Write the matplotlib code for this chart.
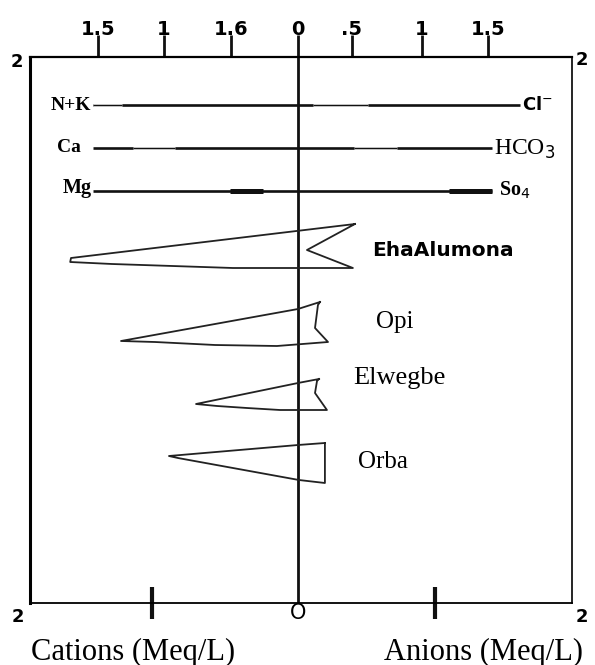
import numpy as np
import matplotlib
matplotlib.use("Agg")
import matplotlib.pyplot as plt

# Stiff diagram: x in meq/L (cations to the left, negative), y = row position (diagram units, top = small)
top_tick_pos = [-1.49, -1.0, -0.5, 0.0, 0.40, 0.925, 1.42]
top_tick_lab = ["1.5", "1", "1.6", "0", ".5", "1", "1.5"]
bottom_tick_pos = [-1.09, 1.02]

ion_rows = [105, 148, 191]
cation_labels = ["N+K", "Ca", "Mg"]
anion_labels = ["Cl$^{-}$", "HCO$_3$", "So$_4$"]
ion_left = [-1.53, -1.53, -1.53]
ion_right = [1.657, 1.448, 1.448]
# thin stretches of each row line (start, end in meq/L)
ion_thin = [[(-1.53, -1.31), (0.11, 0.52)],
            [(-1.23, -0.92), (0.42, 0.74)],
            []]
# extra-heavy stretches
ion_heavy = [[], [], [(-0.51, -0.26), (1.13, 1.448)]]

stations = ["EhaAlumona", "Opi", "Elwegbe", "Orba"]
eha_x = [0.425, -1.694, -1.70, -1.388, -0.485, 0.41, 0.067, 0.425]
eha_y = [224, 258, 262, 264, 268, 268, 250, 224]
opi_x = [0.164, 0.0, -1.321, -1.067, -0.619, -0.157, 0.224, 0.127, 0.149, 0.164]
opi_y = [302, 309, 341, 342, 345, 346, 342, 328, 305, 302]
elw_x = [0.157, 0.0, -0.761, -0.604, -0.381, -0.134, 0.216, 0.127, 0.142, 0.157]
elw_y = [379, 383, 404, 406, 408, 410, 410, 393, 381, 379]
orba_x = [0.201, 0.0, -0.963, -0.896, 0.007, 0.201, 0.201]
orba_y = [443, 445, 456, 458, 480, 483, 443]
station_label_pos = [(0.55, 250), (0.58, 322), (0.41, 378), (0.45, 462)]

W, H = 595, 665
fig = plt.figure(figsize=(W / 100, H / 100), dpi=100)
ax = fig.add_axes([30 / W, 1 - 603 / H, 542 / W, 546 / H])
ax.set_xlim(-2.0, 2.045)
ax.set_ylim(603, 57)

ax.spines["left"].set_linewidth(2.2)
ax.spines["top"].set_linewidth(1.6)
ax.spines["bottom"].set_linewidth(1.3)
ax.spines["right"].set_linewidth(1.2)
ax.set_yticks([])

# bottom ticks
ax.set_xticks(bottom_tick_pos)
ax.set_xticklabels([])
ax.tick_params(axis="x", direction="inout", length=23, width=3, color="#111")

# top ticks
sec = ax.secondary_xaxis("top")
sec.set_xticks(top_tick_pos)
sec.set_xticklabels(top_tick_lab, fontsize=14, fontweight="heavy")
sec.tick_params(direction="out", length=16, width=2, pad=-3, color="#111")
sec.spines["top"].set_visible(False)

# central axis
ax.plot([0, 0], [57, 603], color="#111", lw=2.0, solid_capstyle="butt")

# ion rows
for i, (y, lo, hi) in enumerate(zip(ion_rows, ion_left, ion_right)):
    ax.plot([lo, hi], [y, y], color="#111", lw=1.9, solid_capstyle="butt")
    for a, b in ion_thin[i]:
        ax.plot([a, b], [y, y], color="white", lw=1.9, solid_capstyle="butt")
        ax.plot([a, b], [y, y], color="#111", lw=0.9, solid_capstyle="butt")
    for a, b in ion_heavy[i]:
        ax.plot([a, b], [y, y], color="#111", lw=3.6, solid_capstyle="butt")

serif = "Liberation Serif"
ax.text(-1.54, ion_rows[0], cation_labels[0], ha="right", va="center",
        family=serif, fontweight="bold", fontsize=14)
ax.text(-1.62, ion_rows[1], cation_labels[1], ha="right", va="center",
        family=serif, fontweight="bold", fontsize=14)
ax.text(-1.54, ion_rows[2] - 3, cation_labels[2], ha="right", va="center",
        family=serif, fontweight="bold", fontsize=14.5)
ax.text(1.67, ion_rows[0], anion_labels[0], ha="left", va="center",
        fontweight="bold", fontsize=13)
ax.text(1.46, ion_rows[1] + 1, anion_labels[1], ha="left", va="center",
        family=serif, fontsize=17)
ax.text(1.50, ion_rows[2] - 1, anion_labels[2], ha="left", va="center",
        family=serif, fontweight="bold", fontsize=14.5)

# station polygons
for xs, ys in [(eha_x, eha_y), (opi_x, opi_y), (elw_x, elw_y), (orba_x, orba_y)]:
    ax.plot(xs, ys, color="#222", lw=1.3)

for name, (sx, sy) in zip(stations, station_label_pos):
    if name == "EhaAlumona":
        ax.text(sx, sy, name, ha="left", va="center", fontweight="heavy", fontsize=14.5)
    elif name == "Elwegbe":
        ax.text(sx, sy, name, ha="left", va="center", family=serif, fontsize=19)
    else:
        ax.text(sx, sy, name, ha="left", va="center", family=serif, fontsize=18)

# corner and centre labels
kw = dict(fontweight="bold", fontsize=13, ha="center", va="center", clip_on=False)
ax.text(-2.10, 62, "2", **kw)
ax.text(2.12, 60, "2", **kw)
ax.text(-2.09, 617, "2", **kw)
ax.text(2.12, 617, "2", **kw)
ax.text(0.0, 613, "O", ha="center", va="center", fontsize=15, clip_on=False)

fig.text(133 / W, 1 - 652 / H, "Cations (Meq/L)", ha="center", va="center",
         family=serif, fontsize=22)
fig.text(483 / W, 1 - 652 / H, "Anions (Meq/L)", ha="center", va="center",
         family=serif, fontsize=22)

fig.savefig("out.png", dpi=100)
